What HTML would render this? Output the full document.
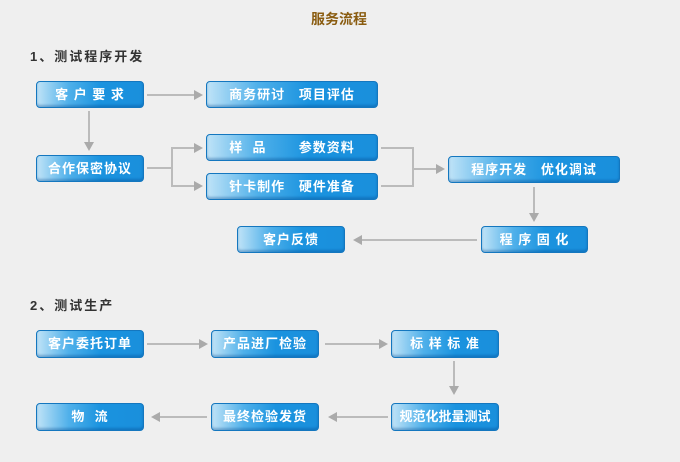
<!DOCTYPE html>
<html><head><meta charset="utf-8"><style>
body{margin:0;width:680px;height:462px;background:#efefef;position:relative;overflow:hidden;font-family:"Liberation Sans","Noto Sans CJK SC",sans-serif}
.b{position:absolute;box-sizing:border-box;border:1px solid #1477bf;border-radius:4px;background:linear-gradient(to right,#bfe3f7 0%,#4fb0ea 30%,#1a93df 60%,#1a8fdc 100%);color:#fff;font-weight:bold;font-size:13px;text-align:center;line-height:25px;white-space:pre;box-shadow:inset 0 -2px 2px rgba(0,70,140,.35);letter-spacing:1px}
.h{position:absolute;font-weight:bold;font-size:13px;color:#333;letter-spacing:2px}
svg{position:absolute;left:0;top:0}
</style></head><body>
<div style="position:absolute;left:311px;top:9px;font-size:14px;font-weight:bold;color:#8a5c10">服务流程</div>
<div class="h" style="left:30px;top:46px">1、测试程序开发</div>
<div class="h" style="left:30px;top:295px">2、测试生产</div>
<svg width="680" height="462" fill="#aaa" stroke="#bbb" stroke-width="2">
<line x1="147" y1="95" x2="195" y2="95"/><polygon points="194,90 203,95 194,100" stroke="none"/>
<line x1="89" y1="111" x2="89" y2="144"/><polygon points="84,142 89,151 94,142" stroke="none"/>
<polyline fill="none" points="147,168 172,168 172,148 195,148"/><polyline fill="none" points="172,168 172,186 195,186"/>
<polygon points="194,143 203,148 194,153" stroke="none"/><polygon points="194,181 203,186 194,191" stroke="none"/>
<polyline fill="none" points="381,148 413,148 413,186 381,186"/><line x1="413" y1="169" x2="437" y2="169"/><polygon points="436,164 445,169 436,174" stroke="none"/>
<line x1="534" y1="187" x2="534" y2="215"/><polygon points="529,213 534,222 539,213" stroke="none"/>
<line x1="477" y1="240" x2="360" y2="240"/><polygon points="362,235 353,240 362,245" stroke="none"/>
<line x1="147" y1="344" x2="200" y2="344"/><polygon points="199,339 208,344 199,349" stroke="none"/>
<line x1="325" y1="344" x2="380" y2="344"/><polygon points="379,339 388,344 379,349" stroke="none"/>
<line x1="454" y1="361" x2="454" y2="388"/><polygon points="449,386 454,395 459,386" stroke="none"/>
<line x1="388" y1="417" x2="335" y2="417"/><polygon points="337,412 328,417 337,422" stroke="none"/>
<line x1="207" y1="417" x2="158" y2="417"/><polygon points="160,412 151,417 160,422" stroke="none"/>
</svg>
<div class="b" style="left:36px;top:81px;width:108px;height:27px">客 户 要 求</div>
<div class="b" style="left:206px;top:81px;width:172px;height:27px">商务研讨   项目评估</div>
<div class="b" style="left:36px;top:155px;width:108px;height:27px">合作保密协议</div>
<div class="b" style="left:206px;top:134px;width:172px;height:27px">样  品       参数资料</div>
<div class="b" style="left:206px;top:173px;width:172px;height:27px">针卡制作   硬件准备</div>
<div class="b" style="left:448px;top:156px;width:172px;height:27px">程序开发   优化调试</div>
<div class="b" style="left:481px;top:226px;width:107px;height:27px">程 序 固 化</div>
<div class="b" style="left:237px;top:226px;width:108px;height:27px">客户反馈</div>
<div class="b" style="left:36px;top:330px;width:108px;height:28px">客户委托订单</div>
<div class="b" style="left:211px;top:330px;width:108px;height:28px">产品进厂检验</div>
<div class="b" style="left:391px;top:330px;width:108px;height:28px">标 样 标 准</div>
<div class="b" style="left:391px;top:403px;width:108px;height:28px;letter-spacing:0">规范化批量测试</div>
<div class="b" style="left:211px;top:403px;width:108px;height:28px">最终检验发货</div>
<div class="b" style="left:36px;top:403px;width:108px;height:28px">物  流</div>
</body></html>
